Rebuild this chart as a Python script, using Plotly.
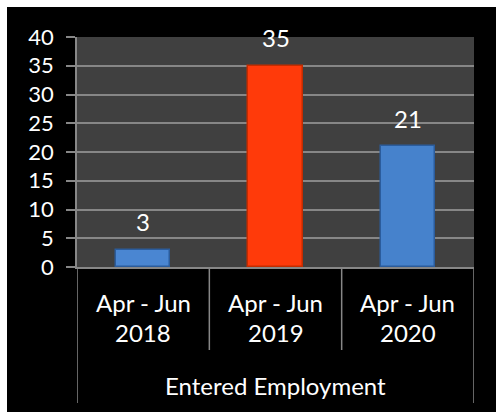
import plotly.graph_objects as go

periods = ["Apr - Jun", "Apr - Jun", "Apr - Jun"]
years = ["2018", "2019", "2020"]
group_label = "Entered Employment"
values = [3, 35, 21]
bar_colors = ["#4a86d2", "#ff3a0a", "#4682cc"]
bar_lines = ["#2b5c9c", "#c42c00", "#2b5c9c"]
y_ticks = [0, 5, 10, 15, 20, 25, 30, 35, 40]

W, H = 496, 412
ML, MR, MT, MB = 77, 22, 37, 145
PW, PH = W - ML - MR, H - MT - MB

def px_x(px):
    return (px - ML) / PW

def px_y(py):
    return (H - MB - py) / PH

FONT = "Lato"
FS = 24
GRID = "#878787"

idx = list(range(len(years)))
fig = go.Figure()
fig.add_trace(go.Bar(
    x=idx, y=values, width=0.41,
    marker=dict(color=bar_colors, line=dict(color=bar_lines, width=1.5)),
    hoverinfo="skip",
))

shapes = [
    dict(type="rect", xref="paper", yref="paper", x0=px_x(7), x1=px_x(W + 2),
         y0=px_y(H + 2), y1=px_y(7), fillcolor="black", line_width=0, layer="below"),
    dict(type="rect", xref="paper", yref="paper", x0=0, x1=1, y0=0, y1=1,
         fillcolor="#404040", line_width=0, layer="below"),
]
for b in [idx[0] - 0.5, idx[-1] + 0.5]:
    shapes.append(dict(type="line", xref="x", yref="paper", x0=b, x1=b,
                       y0=0, y1=px_y(403), line=dict(color=GRID, width=1.5)))
for b in idx[:-1]:
    shapes.append(dict(type="line", xref="x", yref="paper", x0=b + 0.5, x1=b + 0.5,
                       y0=0, y1=px_y(350), line=dict(color=GRID, width=1.5)))

font = dict(color="white", size=FS, family=FONT)
annotations = []
for i, (p, yr, v) in enumerate(zip(periods, years, values)):
    annotations.append(dict(x=i, y=v, xref="x", yref="y", text=str(v), showarrow=False,
                            yanchor="middle", yshift=28, font=font))
    annotations.append(dict(x=i, y=px_y(302), xref="x", yref="paper", text=p,
                            showarrow=False, yanchor="middle", font=font))
    annotations.append(dict(x=i, y=px_y(332), xref="x", yref="paper", text=yr,
                            showarrow=False, yanchor="middle", font=font))
annotations.append(dict(x=(idx[0] + idx[-1]) / 2, y=px_y(385), xref="x", yref="paper",
                        text=group_label, showarrow=False, yanchor="middle", font=font))

fig.update_layout(
    width=W, height=H,
    margin=dict(l=ML, r=MR, t=MT, b=MB),
    paper_bgcolor="white",
    plot_bgcolor="rgba(0,0,0,0)",
    showlegend=False,
    shapes=shapes,
    annotations=annotations,
    bargap=0,
    xaxis=dict(range=[-0.5, len(years) - 0.5], showticklabels=False,
               showgrid=False, zeroline=False, showline=True, linecolor=GRID,
               linewidth=1.5, ticks="", fixedrange=True),
    yaxis=dict(range=[0, 40], tickvals=y_ticks, showgrid=True, gridcolor=GRID,
               gridwidth=1.5, zeroline=False, showline=True, linecolor=GRID,
               linewidth=1.5, ticks="outside", ticklen=9, tickcolor=GRID,
               tickwidth=1.5, tickfont=dict(color="white", size=22, family=FONT),
               ticklabelstandoff=8, fixedrange=True),
)

fig.write_html("out.html")
